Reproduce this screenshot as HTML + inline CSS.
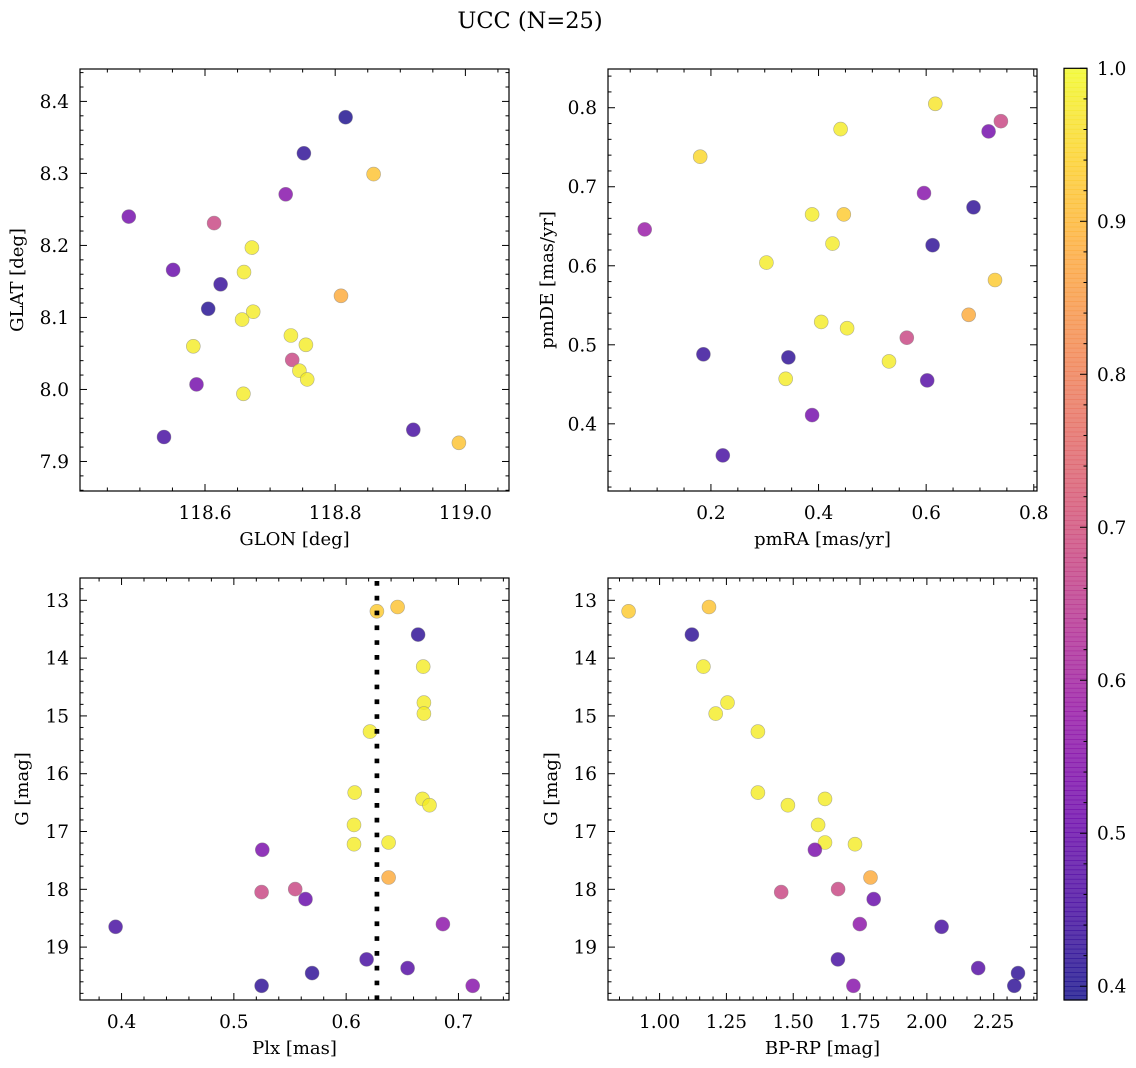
<!DOCTYPE html>
<html><head><meta charset="utf-8">
<style>
html,body{margin:0;padding:0;background:#fff;}
svg{display:block;font-family:"DejaVu Serif","Liberation Serif",serif;}
</style></head>
<body>
<svg id="fig" width="1136" height="1068" viewBox="0 0 1136 1068" xmlns="http://www.w3.org/2000/svg">
<text x="530" y="28" text-anchor="middle" font-size="22.5">UCC (N=25)</text>
</svg>
<script>
// ---- Data ----
const tlGlon = [118.816,118.752,118.859,118.724,118.483,118.614,118.672,118.551,118.660,118.624,118.605,118.674,118.809,118.657,118.732,118.755,118.582,118.734,118.745,118.757,118.587,118.659,118.537,118.920,118.990];
const tlGlat = [8.378,8.328,8.299,8.271,8.240,8.231,8.197,8.166,8.163,8.146,8.112,8.108,8.130,8.097,8.075,8.062,8.060,8.041,8.026,8.014,8.007,7.994,7.934,7.944,7.926];
const tlProb = [0.40,0.42,0.92,0.55,0.52,0.68,0.98,0.50,0.98,0.43,0.41,0.98,0.88,0.98,0.98,0.98,0.98,0.68,0.98,0.98,0.52,0.98,0.45,0.45,0.92];

const trPmra = [0.617,0.739,0.716,0.441,0.180,0.596,0.688,0.388,0.447,0.077,0.426,0.612,0.303,0.728,0.679,0.405,0.453,0.564,0.186,0.344,0.531,0.339,0.602,0.388,0.222];
const trPmde = [0.805,0.783,0.770,0.773,0.738,0.692,0.674,0.665,0.665,0.646,0.628,0.626,0.604,0.582,0.538,0.529,0.521,0.509,0.488,0.484,0.479,0.457,0.455,0.411,0.360];
const trProb = [0.97,0.68,0.52,0.98,0.95,0.55,0.42,0.98,0.93,0.58,0.98,0.42,0.98,0.93,0.88,0.98,0.98,0.68,0.43,0.42,0.98,0.98,0.47,0.52,0.45];

const blPlx = [0.6274,0.6458,0.6641,0.6686,0.6692,0.6692,0.6212,0.6076,0.6680,0.6742,0.6070,0.6070,0.6378,0.5253,0.6378,0.5247,0.5546,0.5638,0.3947,0.6861,0.6182,0.5697,0.6547,0.5247,0.7127];
const blG   = [13.19,13.115,13.594,14.147,14.769,14.960,15.271,16.326,16.435,16.545,16.885,17.219,17.190,17.317,17.795,18.049,17.997,18.170,18.648,18.602,19.213,19.450,19.363,19.669,19.669];
const blProb= [0.93,0.92,0.42,0.98,0.98,0.98,0.98,0.98,0.98,0.98,0.98,0.98,0.98,0.53,0.88,0.68,0.68,0.50,0.45,0.56,0.45,0.42,0.47,0.42,0.55];
const plxMedian = [0.6274];

const brBprp = [0.884,1.185,1.121,1.164,1.254,1.210,1.368,1.368,1.619,1.480,1.593,1.619,1.731,1.581,1.789,1.455,1.668,1.801,2.055,1.749,1.667,2.341,2.192,2.327,1.725];
const brG    = [13.19,13.115,13.594,14.147,14.769,14.960,15.271,16.326,16.435,16.545,16.885,17.190,17.219,17.317,17.795,18.049,17.997,18.170,18.648,18.602,19.213,19.450,19.363,19.669,19.669];
const brProb = [0.93,0.92,0.42,0.98,0.98,0.98,0.98,0.98,0.98,0.98,0.98,0.98,0.98,0.53,0.88,0.68,0.68,0.50,0.45,0.56,0.45,0.42,0.47,0.42,0.55];

const cbarTicks = [0.4,0.5,0.6,0.7,0.8,0.9,1.0];

// ---- helpers ----
const NS = "http://www.w3.org/2000/svg";
const svg = document.getElementById('fig');
const VMIN = 0.391, VMAX = 1.0;
const plasma = [[13,8,135],[65,4,157],[106,0,168],[143,13,164],[177,42,144],[204,71,120],[225,100,98],[242,132,75],[252,166,54],[252,206,37],[240,249,33]];
function cmap(v){
  let t=(v-VMIN)/(VMAX-VMIN); t=Math.max(0,Math.min(1,t));
  const s=t*10, i=Math.min(9,Math.floor(s)), f=s-i;
  const a=plasma[i], b=plasma[i+1];
  return 'rgb('+[0,1,2].map(k=>Math.round(a[k]+(b[k]-a[k])*f)).join(',')+')';
}
function mk(tag, attrs, parent){
  const e=document.createElementNS(NS,tag);
  for(const k in attrs) e.setAttribute(k,attrs[k]);
  (parent||svg).appendChild(e); return e;
}

function panel(p){
  const g=mk('g',{});
  
  
  const sx=v=>p.x0+(v-p.xmin)/(p.xmax-p.xmin)*p.w;
  const sy=v=>p.inv ? p.y0+(v-p.ymin)/(p.ymax-p.ymin)*p.h : p.y0+p.h-(v-p.ymin)/(p.ymax-p.ymin)*p.h;
  for(let i=0;i<p.xs.length;i++){
    const c=mk('circle',{cx:sx(p.xs[i]).toFixed(1),cy:sy(p.ys[i]).toFixed(1),r:7,fill:cmap(p.cs[i]),'fill-opacity':0.8,stroke:'#808080','stroke-opacity':0.6,'stroke-width':0.6},g);
    
    
  }
  if(p.vline){
    const l=mk('line',{x1:sx(p.vline[0]),x2:sx(p.vline[0]),y1:p.y0+3,y2:p.y0+p.h,stroke:'#000','stroke-width':4.7,'stroke-dasharray':'4.7 10.1'},g);
    
    
  }
  mk('rect',{x:p.x0,y:p.y0,width:p.w,height:p.h,fill:'none',stroke:'#000','stroke-width':1.2},g);
  const eps=1e-9;
  const xs0=Math.ceil(p.xmin/p.xminor-eps)*p.xminor;
  for(let v=xs0; v<=p.xmax+eps; v+=p.xminor){
    const X=sx(v);
    const maj=Math.abs(v/p.xmajor-Math.round(v/p.xmajor))<1e-6;
    const L=maj?7:3.5;
    mk('line',{x1:X,x2:X,y1:p.y0+p.h,y2:p.y0+p.h-L,stroke:'#000','stroke-width':1},g);
    mk('line',{x1:X,x2:X,y1:p.y0,y2:p.y0+L,stroke:'#000','stroke-width':1},g);
    if(maj){
      const t=mk('text',{x:X,y:p.y0+p.h+28,'text-anchor':'middle','font-size':18.5},g);
      t.textContent=v.toFixed(p.xdec);
      
      
    }
  }
  const ys0=Math.ceil(Math.min(p.ymin,p.ymax)/p.yminor-eps)*p.yminor;
  for(let v=ys0; v<=Math.max(p.ymin,p.ymax)+eps; v+=p.yminor){
    const Y=sy(v);
    const maj=Math.abs(v/p.ymajor-Math.round(v/p.ymajor))<1e-6;
    const L=maj?7:3.5;
    mk('line',{x1:p.x0,x2:p.x0+L,y1:Y,y2:Y,stroke:'#000','stroke-width':1},g);
    mk('line',{x1:p.x0+p.w,x2:p.x0+p.w-L,y1:Y,y2:Y,stroke:'#000','stroke-width':1},g);
    if(maj){
      const t=mk('text',{x:p.x0-11,y:Y+6.5,'text-anchor':'end','font-size':18.5},g);
      t.textContent=v.toFixed(p.ydec);
      
      
    }
  }
  const xl=mk('text',{x:p.x0+p.w/2,y:p.y0+p.h+54,'text-anchor':'middle','font-size':18},g);
  xl.textContent=p.xlabel;
  
  
  const yx=p.ylx, yy=p.y0+p.h/2;
  const yl=mk('text',{x:yx,y:yy,'text-anchor':'middle','font-size':18,transform:'rotate(-90 '+yx+' '+yy+')'},g);
  yl.textContent=p.ylabel;
  
  
}

panel({name:'glon-glat-panel',x0:80,y0:69,w:429,h:422,xmin:118.408,xmax:119.067,ymin:7.859,ymax:8.445,inv:false,
  xmajor:0.2,xminor:0.05,ymajor:0.1,yminor:0.02,xdec:1,ydec:1,xs:tlGlon,ys:tlGlat,cs:tlProb,xlabel:'GLON [deg]',ylabel:'GLAT [deg]',ylx:23});
panel({name:'pm-panel',x0:608,y0:69,w:429,h:422,xmin:0.0087,xmax:0.806,ymin:0.315,ymax:0.849,inv:false,
  xmajor:0.2,xminor:0.05,ymajor:0.1,yminor:0.02,xdec:1,ydec:1,xs:trPmra,ys:trPmde,cs:trProb,xlabel:'pmRA [mas/yr]',ylabel:'pmDE [mas/yr]',ylx:553});
panel({name:'plx-g-panel',x0:80,y0:578,w:429,h:422,xmin:0.363,xmax:0.745,ymin:12.614,ymax:19.915,inv:true,
  xmajor:0.1,xminor:0.02,ymajor:1,yminor:0.2,xdec:1,ydec:0,xs:blPlx,ys:blG,cs:blProb,vline:plxMedian,xlabel:'Plx [mas]',ylabel:'G [mag]',ylx:28});
panel({name:'cmd-panel',x0:608,y0:578,w:429,h:422,xmin:0.807,xmax:2.412,ymin:12.614,ymax:19.915,inv:true,
  xmajor:0.25,xminor:0.05,ymajor:1,yminor:0.2,xdec:2,ydec:0,xs:brBprp,ys:brG,cs:brProb,xlabel:'BP-RP [mag]',ylabel:'G [mag]',ylx:557});

(function(){
  const g=mk('g',{});
  
  
  const x0=1064,w=23,top=68.3,bot=1000;
  const sy=v=>top+(VMAX-v)/(VMAX-VMIN)*(bot-top);
  const N=200;
  for(let i=0;i<N;i++){
    const v=VMAX-(i+0.5)/N*(VMAX-VMIN);
    mk('rect',{x:x0,y:top+i*(bot-top)/N,width:w,height:(bot-top)/N+0.6,fill:cmap(v),'fill-opacity':0.8},g);
  }
  mk('rect',{x:x0,y:top,width:w,height:bot-top,fill:'none',stroke:'#000','stroke-width':1.2},g);
  for(let k=Math.ceil(VMIN/0.02);k*0.02<=VMAX+1e-9;k++){
    const v=k*0.02, Y=sy(v);
    const maj=Math.abs(v*10-Math.round(v*10))<1e-6;
    mk('line',{x1:x0+w,x2:x0+w-(maj?7:3.5),y1:Y,y2:Y,stroke:'#000','stroke-width':1},g);
  }
  cbarTicks.forEach(v=>{
    const t=mk('text',{x:x0+w+10,y:sy(v)+6.5,'font-size':18.5},g);
    t.textContent=v.toFixed(1);
    
    
  });
})();
</script>
</body></html>
